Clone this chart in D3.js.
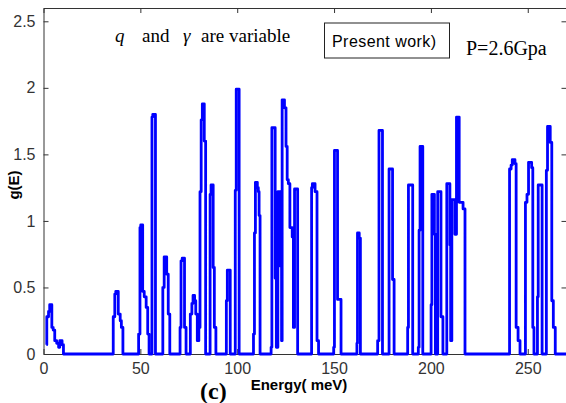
<!DOCTYPE html>
<html>
<head>
<meta charset="utf-8">
<script src="https://cdn.jsdelivr.net/npm/d3@7"></script>
<style>
body{margin:0;background:#fff;}
.tick text{font-family:Arial,"Liberation Sans",sans-serif;font-size:16px;fill:#333;}
.axis path,.axis line{stroke:#333;}
</style>
</head>
<body>
<div id="chart"></div>
<script>
var w = 566;
var h = 403;
var margin = {left:43.5, top:8, right:-0.5, bottom:49};

// energy breakpoints (meV) and g(E) held until the next breakpoint
var energy = [1.5,1.7,2.6,3.2,4.3,5.0,5.8,6.8,7.8,8.4,9.6,10.3,
  36.0,36.8,37.3,38.6,39.6,40.2,41.0,
  49.1,49.8,50.2,51.2,52.0,53.0,53.8,54.5,56.0,56.4,57.8,
  61.6,62.3,63.6,64.4,65.2,
  70.5,71.0,71.6,72.8,73.6,
  75.8,76.6,77.2,78.0,78.6,79.4,80.2,80.8,81.4,82.0,83.0,83.7,
  86.0,86.5,87.6,88.2,89.0,
  94.4,94.9,96.4,
  99.0,99.5,101.0,
  108.4,108.9,109.4,110.4,110.9,111.3,111.8,
  117.5,117.9,119.6,120.2,121.0,122.4,122.9,123.2,124.4,125.2,125.8,126.4,127.2,128.4,129.0,129.6,131.2,
  138.4,138.8,140.2,141.2,142.0,
  149.8,150.2,151.8,153.6,
  161.8,162.1,163.0,163.6,
  172.5,173.2,175.0,
  178.4,180.2,181.0,
  188.0,188.4,190.6,
  193.5,193.9,194.4,195.8,
  200.1,200.5,201.8,202.3,203.5,205.2,206.2,208.2,209.8,210.2,210.8,212.4,213.2,214.6,216.6,217.6,
  240.6,241.4,242.0,243.4,244.0,245.0,246.0,
  248.8,249.6,250.4,252.0,252.6,253.2,
  255.0,255.4,257.4,
  259.6,260.2,261.6,262.4,263.2,264.2,270];
var gE = [0.07,0.28,0.32,0.37,0.2,0.18,0.1,0.08,0.05,0.1,0.07,0,
  0.28,0.45,0.47,0.3,0.25,0.2,0,
  0.15,0.95,0.97,0.47,0.43,0.35,0.15,0,1.78,1.8,0,
  0.5,0.73,0.6,0.3,0,
  0.2,0.7,0.72,0.2,0,
  0.3,0.38,0.44,0.4,0.3,0.1,0.2,1.22,1.76,1.88,1.6,0,
  1.2,1.27,0.65,0.2,0,
  0.4,0.63,0,
  1.23,1.99,0,
  0.15,0.91,1.29,1.25,1.22,1.04,0,
  0.05,1.7,0.57,0.05,1.22,0.66,0.1,1.91,1.85,1.56,1.31,1.28,0.95,0.88,0.2,1.24,0,
  1.25,1.28,1.22,0.1,0,
  0.05,1.53,0.41,0,
  0.08,0.91,0.87,0,
  0.1,1.68,0,
  1.39,0.56,0,
  0.2,1.27,0,
  0.05,0.93,1.56,0,
  0.37,1.2,0.9,0,1.22,0.28,0,1.28,0.82,0.1,1.16,0.9,1.78,1.14,1.09,0,
  1.39,1.42,1.46,1.43,0.2,0.1,0,
  1.14,1.2,1.44,1.4,0.2,0,
  0.43,1.27,0,
  1.38,1.71,1.59,0.4,0.2,0,0];

var xTicks = [0,50,100,150,200,250];
var yTicks = [0,0.5,1,1.5,2,2.5];
var xDomain = [0,270];
var yDomain = [0,2.6];

var svg = d3.select("#chart").append("svg")
  .attr("width", w)
  .attr("height", h);

var xScale = d3.scaleLinear().domain(xDomain).range([margin.left, w - margin.right]);
var yScale = d3.scaleLinear().domain(yDomain).range([h - margin.bottom, margin.top]);

// frame with inward ticks on all four sides
svg.append("g").attr("class","axis")
  .attr("transform","translate(0," + (h - margin.bottom) + ")")
  .call(d3.axisBottom(xScale).tickValues(xTicks).tickSizeInner(-5).tickSizeOuter(0).tickPadding(9).tickFormat(d3.format("d")));
svg.append("g").attr("class","axis")
  .attr("transform","translate(0," + margin.top + ")")
  .call(d3.axisTop(xScale).tickValues(xTicks).tickSizeInner(-5).tickSizeOuter(0).tickFormat(""));
svg.append("g").attr("class","axis")
  .attr("transform","translate(" + margin.left + ",0)")
  .call(d3.axisLeft(yScale).tickValues(yTicks).tickSizeInner(-5).tickSizeOuter(0).tickPadding(8).tickFormat(function(d){return d;}));
svg.append("g").attr("class","axis")
  .attr("transform","translate(" + (w - margin.right) + ",0)")
  .call(d3.axisRight(yScale).tickValues(yTicks).tickSizeInner(-5).tickSizeOuter(0).tickFormat(""));

// data line
var pts = energy.map(function(e,i){return [e, gE[i]];});
var line = d3.line()
  .x(function(d){return xScale(d[0]);})
  .y(function(d){return yScale(d[1]);})
  .curve(d3.curveStepAfter);
svg.append("path")
  .datum(pts)
  .attr("d", line)
  .attr("fill","none")
  .attr("stroke","#0000ff")
  .attr("stroke-width",2.8)
  .attr("stroke-linejoin","round");

// axis labels
svg.append("text")
  .attr("transform","translate(19,185) rotate(-90)")
  .style("text-anchor","middle")
  .style("font-family","Arial,sans-serif")
  .style("font-weight","bold")
  .style("font-size","15px")
  .text("g(E)");
svg.append("text")
  .attr("x",299).attr("y",390)
  .style("text-anchor","middle")
  .style("font-family","Arial,sans-serif")
  .style("font-weight","bold")
  .style("font-size","15px")
  .text("Energy( meV)");
svg.append("text")
  .attr("x",200).attr("y",399)
  .style("font-family","'Liberation Serif','Times New Roman',serif")
  .style("font-weight","bold")
  .style("font-size","24px")
  .text("(c)");

// annotation
var serif = "'Liberation Serif','Times New Roman',serif";
var note = [["q",115,true],["and",142,false],["\u03b3",183,true],["are variable",201,false]];
note.forEach(function(n){
  svg.append("text")
    .attr("x",n[1]).attr("y",42)
    .style("font-family",serif)
    .style("font-style",n[2] ? "italic" : "normal")
    .style("font-size","19px")
    .text(n[0]);
});
svg.append("rect")
  .attr("x",324.5).attr("y",23)
  .attr("width",125).attr("height",35)
  .attr("fill","none").attr("stroke","#222").attr("stroke-width",1);
svg.append("text")
  .attr("x",332).attr("y",47)
  .style("font-family","Arial,sans-serif")
  .style("font-size","16px")
  .attr("textLength",104)
  .text("Present work)");
svg.append("text")
  .attr("x",466).attr("y",55)
  .style("font-family",serif)
  .style("font-size","20px")
  .text("P=2.6Gpa");
</script>
</body>
</html>
